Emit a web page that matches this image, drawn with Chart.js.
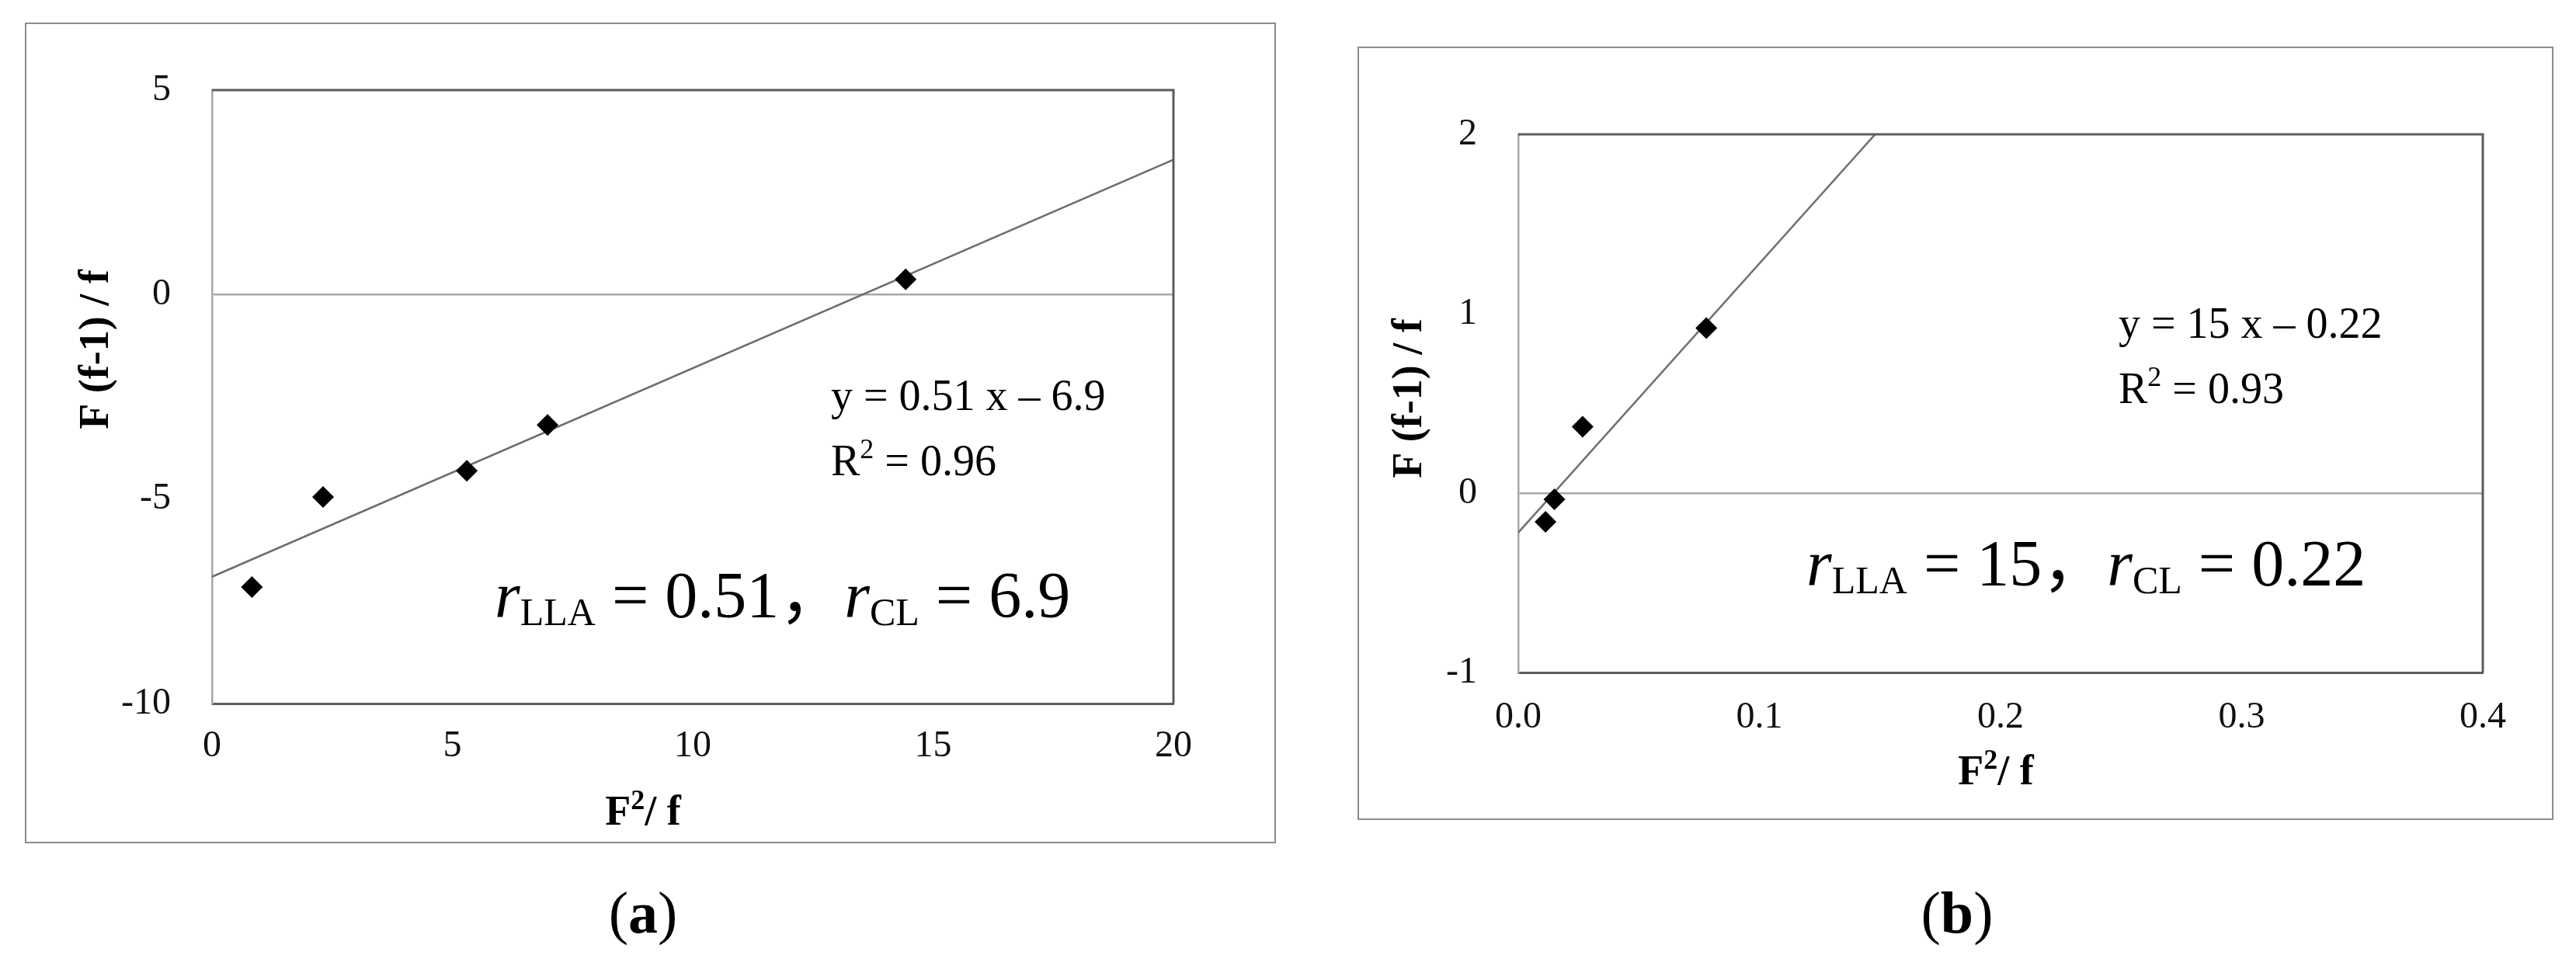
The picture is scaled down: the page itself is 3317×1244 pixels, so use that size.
<!DOCTYPE html>
<html>
<head>
<meta charset="utf-8">
<script src="https://cdn.jsdelivr.net/npm/chart.js@4.4.1/dist/chart.umd.min.js"></script>
<style>
  html, body { margin: 0; padding: 0; background: #fff; }
  body { width: 3317px; height: 1244px; position: relative; overflow: hidden; }
  canvas { position: absolute; }
  .frame { position: absolute; box-sizing: border-box; border: 2px solid #8c8c8c; pointer-events: none; }
  .cap { position: absolute; font-family: "Liberation Serif", serif; font-size: 76px; transform: translate(-50%, -50%); white-space: nowrap; }
</style>
</head>
<body>
<div class="frame" style="left:32px;top:29px;width:1611px;height:1057px"></div>
<div class="frame" style="left:1748px;top:60px;width:1540px;height:996px"></div>
<canvas id="chartA" width="1611" height="1057" style="left:32px;top:29px"></canvas>
<canvas id="chartB" width="1540" height="996" style="left:1748px;top:60px"></canvas>
<div class="cap" style="left:828px;top:1175px">(<b>a</b>)</div>
<div class="cap" style="left:2520px;top:1175px">(<b>b</b>)</div>
<script>
// panel (a) measurements
const aX = [0.83, 2.31, 5.30, 6.98, 14.43];
const aY = [-7.15, -4.95, -4.31, -3.19, 0.37];
const aFitX = [0, 20];
const aFitY = [-6.9, 3.3];
const aXTicks = [0, 5, 10, 15, 20];
const aYTicks = [-10, -5, 0, 5];

// panel (b) measurements
const bX = [0.0113, 0.015, 0.0267, 0.078];
const bY = [-0.16, -0.035, 0.37, 0.92];
const bFitX = [0, 0.148];
const bFitY = [-0.22, 2.0];
const bXTicks = [0, 0.1, 0.2, 0.3, 0.4];
const bXLabels = ['0.0', '0.1', '0.2', '0.3', '0.4'];
const bYTicks = [-1, 0, 1, 2];

// fit text
const aEq = 'y = 0.51 x \u2013 6.9', aR2 = ' = 0.96', aLLA = ' = 0.51\uff0c', aCL = ' = 6.9';
const bEq = 'y = 15 x \u2013 0.22', bR2 = ' = 0.93', bLLA = ' = 15\uff0c', bCL = ' = 0.22';

const serif = '"Liberation Serif", "Noto Sans CJK SC", serif';
const yTitle = 'F (f-1) / f';

function toPoints(xs, ys) {
    return xs.map((x, i) => ({ x: x, y: ys[i] }));
}

function drawRich(ctx, x, y, parts) {
    parts.forEach(p => {
        ctx.font = p.font;
        ctx.fillText(p.t, x, y + (p.dy || 0));
        x += ctx.measureText(p.t).width;
    });
}
function richWidth(ctx, parts) {
    let w = 0;
    parts.forEach(p => { ctx.font = p.font; w += ctx.measureText(p.t).width; });
    return w;
}

function makePanel(id, o) {
    const notes = {
        id: 'notes',
        afterDraw(chart) {
            const ctx = chart.ctx;
            const a = chart.chartArea;
            ctx.save();
            // plot frame: top and right dark like the bottom
            ctx.strokeStyle = '#5c5c5c';
            ctx.lineWidth = 3;
            ctx.beginPath();
            ctx.moveTo(a.left, a.top);
            ctx.lineTo(a.right, a.top);
            ctx.lineTo(a.right, a.bottom);
            ctx.stroke();

            ctx.fillStyle = '#000';
            ctx.textBaseline = 'alphabetic';
            ctx.textAlign = 'left';
            const f56 = `56px ${serif}`;
            drawRich(ctx, o.eqPos[0], o.eqPos[1], [{ t: o.eq, font: f56 }]);
            drawRich(ctx, o.eqPos[0], o.eqPos[1] + 84, [
                { t: 'R', font: f56 },
                { t: '2', font: `36px ${serif}`, dy: -22 },
                { t: o.r2, font: f56 }
            ]);
            const big = `84px ${serif}`, it = `italic 84px ${serif}`, sub = `50px ${serif}`;
            drawRich(ctx, o.bigPos[0], o.bigPos[1], [
                { t: 'r', font: it }, { t: 'LLA', font: sub, dy: 10 }, { t: o.lla, font: big },
                { t: 'r', font: it }, { t: 'CL', font: sub, dy: 10 }, { t: o.cl, font: big }
            ]);

            // axis titles
            const bold = `bold 54px ${serif}`;
            ctx.save();
            ctx.translate(o.yTitlePos[0], o.yTitlePos[1]);
            ctx.rotate(-Math.PI / 2);
            ctx.font = bold;
            ctx.textAlign = 'center';
            ctx.textBaseline = 'middle';
            ctx.fillText(yTitle, 0, 0);
            ctx.restore();

            const xt = [
                { t: 'F', font: bold },
                { t: '2', font: `bold 36px ${serif}`, dy: -20 },
                { t: '/ f', font: bold }
            ];
            drawRich(ctx, o.xTitlePos[0] - richWidth(ctx, xt) / 2, o.xTitlePos[1] + 18, xt);
            ctx.restore();
        }
    };

    return new Chart(document.getElementById(id), {
        type: 'scatter',
        data: {
            datasets: [
                {
                    data: toPoints(o.xs, o.ys),
                    pointStyle: 'rectRot',
                    pointRadius: 14,
                    backgroundColor: '#000',
                    borderColor: '#000',
                    borderWidth: 0
                },
                {
                    data: toPoints(o.fitX, o.fitY),
                    showLine: true,
                    pointRadius: 0,
                    borderColor: '#6e6e6e',
                    borderWidth: 2.5
                }
            ]
        },
        options: {
            responsive: false,
            animation: false,
            devicePixelRatio: 1,
            layout: { padding: o.pad },
            plugins: { legend: { display: false }, tooltip: { enabled: false } },
            scales: {
                x: {
                    type: 'linear',
                    min: o.xTicks[0],
                    max: o.xTicks[o.xTicks.length - 1],
                    afterBuildTicks: s => { s.ticks = o.xTicks.map(v => ({ value: v })); },
                    afterFit: s => { s.height = o.xAxisH; },
                    grid: { display: false, drawTicks: false },
                    border: { color: '#5c5c5c', width: 3 },
                    ticks: {
                        padding: o.xPad,
                        color: '#111',
                        font: { family: serif, size: 48 },
                        callback: (v, i) => o.xLabels ? o.xLabels[i] : v
                    }
                },
                y: {
                    type: 'linear',
                    min: o.yTicks[0],
                    max: o.yTicks[o.yTicks.length - 1],
                    afterBuildTicks: s => { s.ticks = o.yTicks.map(v => ({ value: v })); },
                    afterFit: s => { s.width = o.yAxisW; },
                    grid: {
                        drawTicks: false,
                        lineWidth: 2.5,
                        color: c => (c.tick && c.tick.value === 0) ? '#a8a8a8' : 'rgba(0,0,0,0)'
                    },
                    border: { color: '#a8a8a8', width: 2.5 },
                    ticks: {
                        padding: 53,
                        color: '#111',
                        font: { family: serif, size: 48 }
                    }
                }
            }
        },
        plugins: [notes]
    });
}

makePanel('chartA', {
    xs: aX, ys: aY, fitX: aFitX, fitY: aFitY,
    xTicks: aXTicks, yTicks: aYTicks,
    pad: { left: 0, top: 87, right: 132, bottom: 0 },
    yAxisW: 241, xAxisH: 180, xPad: 27,
    eq: aEq, r2: aR2, lla: aLLA, cl: aCL,
    eqPos: [1038, 499], bigPos: [605, 766],
    yTitlePos: [93, 421], xTitlePos: [796, 1015]
});

makePanel('chartB', {
    xs: bX, ys: bY, fitX: bFitX, fitY: bFitY,
    xTicks: bXTicks, xLabels: bXLabels, yTicks: bYTicks,
    pad: { left: 0, top: 113, right: 91, bottom: 0 },
    yAxisW: 207, xAxisH: 190, xPad: 30,
    eq: bEq, r2: bR2, lla: bLLA, cl: bCL,
    eqPos: [980, 375], bigPos: [578, 694],
    yTitlePos: [68, 453], xTitlePos: [822, 932]
});
</script>
</body>
</html>
